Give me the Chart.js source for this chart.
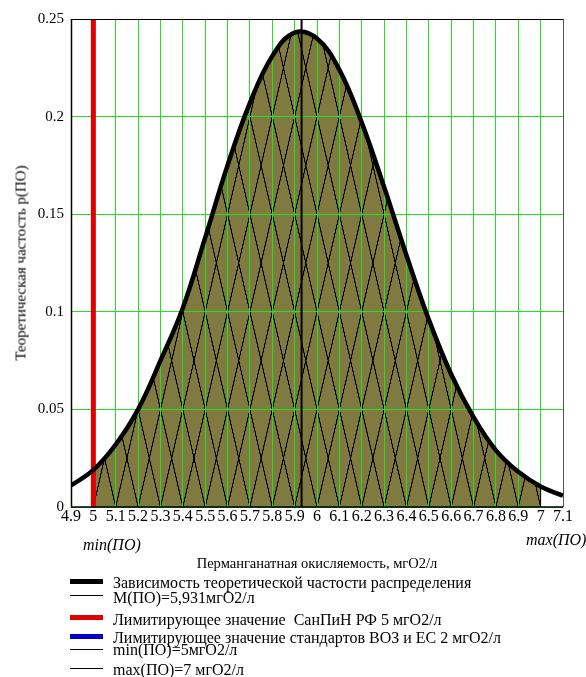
<!DOCTYPE html>
<html>
<head>
<meta charset="utf-8">
<script src="https://cdn.jsdelivr.net/npm/chart.js@4.4.0/dist/chart.umd.min.js"></script>
<style>
    body { margin: 0; background: #fff; }
    #wrap { position: relative; width: 586px; height: 677px; font-family: "Liberation Serif", "Times New Roman", serif; color: #000; }
    #wrap canvas { position: absolute; left: 0; top: 0; }
    .t { position: absolute; white-space: nowrap; line-height: 1; font-size: 16px; }
    .ln { position: absolute; left: 70px; width: 33px; }
</style>
</head>
<body>
<div id="wrap">
    <canvas id="chart" width="586" height="677"></canvas>
    <div class="t" style="left:21px;top:263px;font-size:15px;transform:translate(-50%,-50%) rotate(-90deg);">Теоретическая частость р(ПО)</div>
    <div class="t" style="left:317px;top:563px;font-size:14.5px;transform:translate(-50%,-50%);">Перманганатная окисляемость, мгО2/л</div>
    <div class="t" style="left:83px;top:537px;font-style:italic;">min(ПО)</div>
    <div class="t" style="left:526px;top:532px;font-style:italic;">max(ПО)</div>

    <div class="ln" style="top:579px;border-top:5px solid #000;"></div>
    <div class="t" style="left:113px;top:575px;">Зависимость теоретической частости распределения</div>
    <div class="ln" style="top:595px;border-top:1px solid #000;"></div>
    <div class="t" style="left:113px;top:590px;">М(ПО)=5,931мгО2/л</div>
    <div class="ln" style="top:615px;border-top:5px solid #e00000;"></div>
    <div class="t" style="left:113px;top:612px;">Лимитирующее значение&nbsp; СанПиН РФ 5 мгО2/л</div>
    <div class="ln" style="top:634px;border-top:5px solid #0000cc;"></div>
    <div class="t" style="left:113px;top:630px;">Лимитирующее значение стандартов ВОЗ и ЕС 2 мгО2/л</div>
    <div class="ln" style="top:649px;border-top:1px solid #000;"></div>
    <div class="t" style="left:113px;top:642px;">min(ПО)=5мгО2/л</div>
    <div class="ln" style="top:668px;border-top:1px solid #000;"></div>
    <div class="t" style="left:113px;top:662px;">max(ПО)=7 мгО2/л</div>
</div>
<script>
    // permanganate oxidability, mgO2/l
    const xValues = [4.9, 5.0, 5.1, 5.2, 5.3, 5.4, 5.5, 5.6, 5.7, 5.8, 5.9, 6.0,
        6.1, 6.2, 6.3, 6.4, 6.5, 6.6, 6.7, 6.8, 6.9, 7.0, 7.1];
    // theoretical frequency p(PO)
    const pValues = [0.011, 0.019, 0.032, 0.050, 0.075, 0.102, 0.138, 0.175, 0.207, 0.231, 0.243, 0.240,
        0.224, 0.197, 0.164, 0.129, 0.096, 0.068, 0.046, 0.029, 0.018, 0.0105, 0.0058];
    const meanPO = 5.931;
    const limitSanPiN = 5;
    const minPO = 5;
    const maxPO = 7;
    const pAtMax = 0.0105;
    const yTop = 0.25;

    const fillColour = 'rgb(128, 122, 64)';
    const gridColour = '#22e022';

    function hatchPattern(chart) {
        const { ctx, chartArea, scales } = chart;
        if (!chartArea || !scales.x || !scales.y) return fillColour;
        const x0 = scales.x.getPixelForValue(minPO);
        const dx = scales.x.getPixelForValue(minPO + 0.1) - x0;
        const y0 = scales.y.getPixelForValue(0);
        const dy = y0 - scales.y.getPixelForValue(0.05);
        const k = 4;
        const tile = document.createElement('canvas');
        const w = Math.round(dx * k);
        const h = Math.round(dy * k);
        tile.width = w;
        tile.height = h;
        const t = tile.getContext('2d');
        t.fillStyle = fillColour;
        t.fillRect(0, 0, w, h);
        t.strokeStyle = '#000';
        t.lineWidth = k * 1.1;
        t.beginPath();
        t.moveTo(-w, -h); t.lineTo(2 * w, 2 * h);
        t.moveTo(2 * w, -h); t.lineTo(-w, 2 * h);
        t.stroke();
        const pattern = ctx.createPattern(tile, 'repeat');
        pattern.setTransform(new DOMMatrix([dx / w, 0, 0, dy / h, x0, y0]));
        return pattern;
    }

    const align = (p) => Math.round(p - 0.5) + 0.5;

    // green grid shows through the hatched area
    const gridOverFill = {
        id: 'gridOverFill',
        afterDatasetDraw(chart, args) {
            if (args.index !== 0) return;
            const { ctx, chartArea: a, scales: { x, y } } = chart;
            ctx.save();
            ctx.strokeStyle = gridColour;
            ctx.lineWidth = 1;
            ctx.beginPath();
            x.ticks.forEach((tick) => {
                const px = align(x.getPixelForValue(tick.value));
                if (px > a.left + 1 && px < a.right - 1) { ctx.moveTo(px, a.top); ctx.lineTo(px, a.bottom); }
            });
            y.ticks.forEach((tick) => {
                const py = align(y.getPixelForValue(tick.value));
                if (py > a.top + 1 && py < a.bottom - 1) { ctx.moveTo(a.left, py); ctx.lineTo(a.right, py); }
            });
            ctx.stroke();
            ctx.restore();
        },
        afterDatasetsDraw(chart) {
            const { ctx, chartArea: a } = chart;
            ctx.save();
            ctx.strokeStyle = '#000';
            ctx.lineWidth = 1;
            ctx.beginPath();
            ctx.moveTo(align(a.left), align(a.top));
            ctx.lineTo(align(a.right), align(a.top));
            ctx.stroke();
            ctx.strokeStyle = '#555';
            ctx.beginPath();
            ctx.moveTo(align(a.right), a.top);
            ctx.lineTo(align(a.right), a.bottom);
            ctx.stroke();
            ctx.strokeStyle = '#000';
            ctx.lineWidth = 1.5;
            ctx.beginPath();
            ctx.moveTo(align(a.left), a.top);
            ctx.lineTo(align(a.left), a.bottom);
            ctx.lineTo(a.right, a.bottom);
            ctx.stroke();
            ctx.restore();
        },
    };

    const curve = xValues.map((x, i) => ({ x, y: pValues[i] }));
    const filled = curve.filter((p) => p.x >= minPO - 1e-9 && p.x <= maxPO + 1e-9);

    Chart.defaults.font.family = '"Liberation Serif", "Times New Roman", serif';
    Chart.defaults.font.size = 15;
    Chart.defaults.color = '#000';

    new Chart(document.getElementById('chart'), {
        type: 'line',
        data: {
            datasets: [
                {
                    data: filled,
                    borderWidth: 0,
                    pointRadius: 0,
                    tension: 0.4,
                    fill: 'origin',
                    backgroundColor: (c) => hatchPattern(c.chart),
                    order: 5,
                },
                {
                    data: [{ x: limitSanPiN, y: 0 }, { x: limitSanPiN, y: yTop }],
                    borderColor: '#e00000',
                    borderWidth: 5,
                    pointRadius: 0,
                    order: 4,
                },
                {
                    data: curve,
                    borderColor: '#000',
                    borderWidth: 4.5,
                    pointRadius: 0,
                    tension: 0.4,
                    fill: false,
                    order: 2,
                },
                {
                    data: [{ x: meanPO, y: 0 }, { x: meanPO, y: yTop }],
                    borderColor: '#000',
                    borderWidth: 2,
                    pointRadius: 0,
                    order: 1,
                },
                {
                    data: [{ x: maxPO, y: 0 }, { x: maxPO, y: pAtMax }],
                    borderColor: '#000',
                    borderWidth: 1,
                    pointRadius: 0,
                    order: 0,
                },
            ],
        },
        options: {
            responsive: false,
            animation: false,
            events: [],
            layout: { padding: { left: 0, top: 19, right: 23, bottom: 150 } },
            plugins: { legend: { display: false }, tooltip: { enabled: false } },
            scales: {
                x: {
                    type: 'linear',
                    min: 4.9,
                    max: 7.1,
                    afterFit: (s) => { s.height = 20; },
                    grid: { color: gridColour, drawTicks: false },
                    border: { display: false },
                    ticks: {
                        stepSize: 0.1,
                        autoSkip: false,
                        maxRotation: 0,
                        minRotation: 0,
                        padding: 0,
                        font: { size: 16 },
                        callback: (v) => String(Number(v.toFixed(1))),
                    },
                },
                y: {
                    min: 0,
                    max: yTop,
                    afterFit: (s) => { s.width = 71; },
                    grid: { color: gridColour, drawTicks: false },
                    border: { display: false },
                    ticks: {
                        stepSize: 0.05,
                        padding: 7,
                        callback: (v) => String(Number(v.toFixed(2))),
                    },
                },
            },
        },
        plugins: [gridOverFill],
    });
</script>
</body>
</html>
